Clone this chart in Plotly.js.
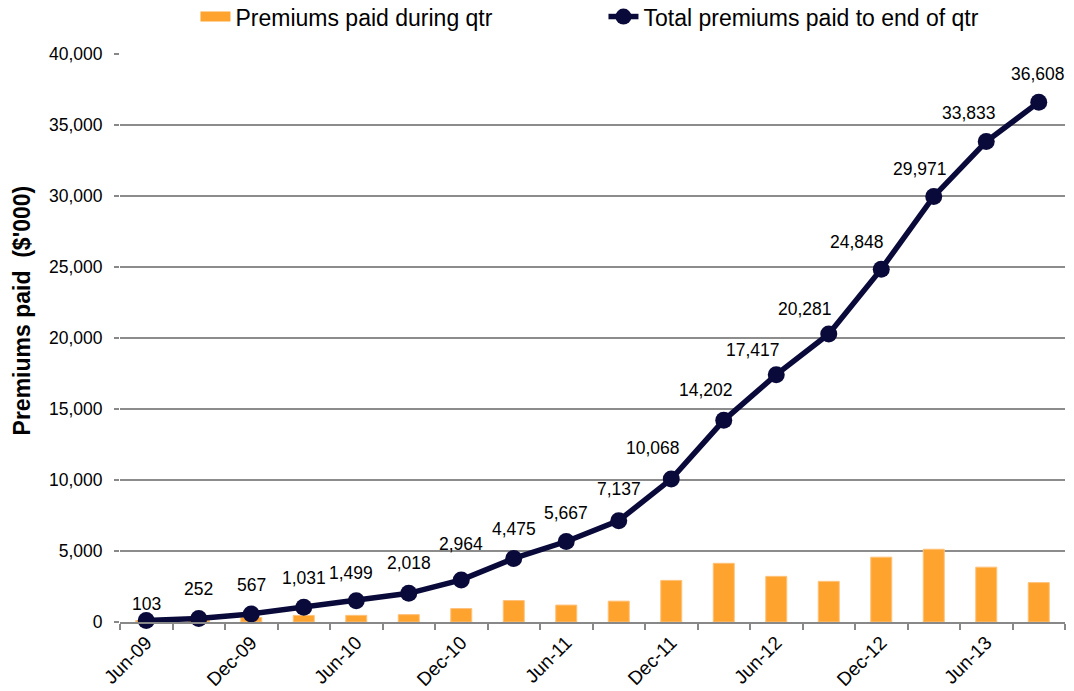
<!DOCTYPE html>
<html>
<head>
<meta charset="utf-8">
<script src="https://cdn.plot.ly/plotly-3.0.1.min.js"></script>
<style>
html,body{margin:0;padding:0;background:#fff;}
#chart{width:1074px;height:691px;}
</style>
</head>
<body>
<div id="chart"></div>
<script>
// Quarter categories
const quarters = ["Jun-09","Sep-09","Dec-09","Mar-10","Jun-10","Sep-10","Dec-10","Mar-11","Jun-11","Sep-11","Dec-11","Mar-12","Jun-12","Sep-12","Dec-12","Mar-13","Jun-13","Sep-13"];
// Tick labels shown (every other quarter)
const tickLabels = ["Jun-09","","Dec-09","","Jun-10","","Dec-10","","Jun-11","","Dec-11","","Jun-12","","Dec-12","","Jun-13",""];
// Premiums paid during quarter ($'000)
const paidDuringQtr = [103,149,315,464,468,519,946,1511,1192,1470,2931,4134,3215,2864,4567,5123,3862,2775];
// Total premiums paid to end of quarter ($'000)
const totalToDate = [103,252,567,1031,1499,2018,2964,4475,5667,7137,10068,14202,17417,20281,24848,29971,33833,36608];

// label offsets (style, px)
const labelDx = [0,0,0,0,-5,0,0,0,0,0,-18,-18,-23,-24,-24,-14,-17,-1];
const labelDy = [17,29,29,29,28,30,36,29,29,32,31,30,25,25,27,27,29,28];

const ORANGE = "#FFA32F";
const NAVY = "#0A0A3A";
const FONT = "Liberation Sans, Arial, sans-serif";

const traces = [
  {
    type: "bar", x: quarters, y: paidDuringQtr, name: "Premiums paid during qtr",
    marker: {color: ORANGE, line: {color: "#FFC27A", width: 1}}, width: 0.4,
    showlegend: false, hoverinfo: "x+y"
  },
  {
    type: "scatter", mode: "lines", x: [null], y: [null], name: "Premiums paid during qtr",
    line: {color: ORANGE, width: 12}, hoverinfo: "skip"
  },
  {
    type: "scatter", mode: "lines+markers", x: quarters, y: totalToDate, name: "Total premiums paid to end of qtr",
    line: {color: NAVY, width: 5.5}, marker: {color: NAVY, size: 17}, cliponaxis: false
  }
];

const annotations = totalToDate.map((v, i) => ({
  x: quarters[i], y: v, xref: "x", yref: "y",
  text: v.toLocaleString("en-US"), showarrow: false,
  xshift: labelDx[i], yshift: labelDy[i], yanchor: "middle", xanchor: "center",
  font: {family: FONT, size: 17.5, color: "#000"}
}));
annotations.push({
  xref: "paper", yref: "paper", x: -0.104, y: 0.548, xanchor: "center", yanchor: "middle",
  text: "<b>Premiums paid  ($'000)</b>", textangle: -90, showarrow: false,
  font: {family: FONT, size: 23, color: "#000"}
});

const layout = {
  width: 1074, height: 691,
  margin: {l: 120, r: 9, t: 54, b: 69, autoexpand: false},
  paper_bgcolor: "#fff", plot_bgcolor: "#fff",
  font: {family: FONT, size: 17.5, color: "#000"},
  showlegend: true,
  legend: {
    orientation: "h", xref: "container", yref: "container",
    x: 0.182, y: 0.976, xanchor: "left", yanchor: "middle",
    font: {family: FONT, size: 23, color: "#000"},
    entrywidth: 363, entrywidthmode: "pixels", bgcolor: "rgba(0,0,0,0)"
  },
  xaxis: {
    type: "category", tickvals: quarters, ticktext: tickLabels, tickangle: -45,
    range: [-0.5, quarters.length - 0.5], autorange: false,
    tickson: "boundaries", ticks: "outside", ticklen: 6, tickwidth: 2, tickcolor: "#888",
    showline: true, linecolor: "#888", linewidth: 2, showgrid: false, zeroline: false,
    tickfont: {family: FONT, size: 19, color: "#000"}, fixedrange: true
  },
  yaxis: {
    range: [0, 40000], autorange: false, tickvals: [0,5000,10000,15000,20000,25000,30000,35000,40000],
    ticktext: ["0","5,000","10,000","15,000","20,000","25,000","30,000","35,000","40,000"],
    ticks: "outside", ticklen: 5, tickwidth: 1.5, tickcolor: "#888",
    showgrid: true, gridcolor: "#8c8c8c", gridwidth: 1.5, zeroline: false, showline: false,
    tickfont: {family: FONT, size: 17.5, color: "#000"}, ticklabelstandoff: 8, fixedrange: true
  },
  annotations: annotations
};

Plotly.newPlot("chart", traces, layout, {displayModeBar: false, responsive: false});
</script>
</body>
</html>
